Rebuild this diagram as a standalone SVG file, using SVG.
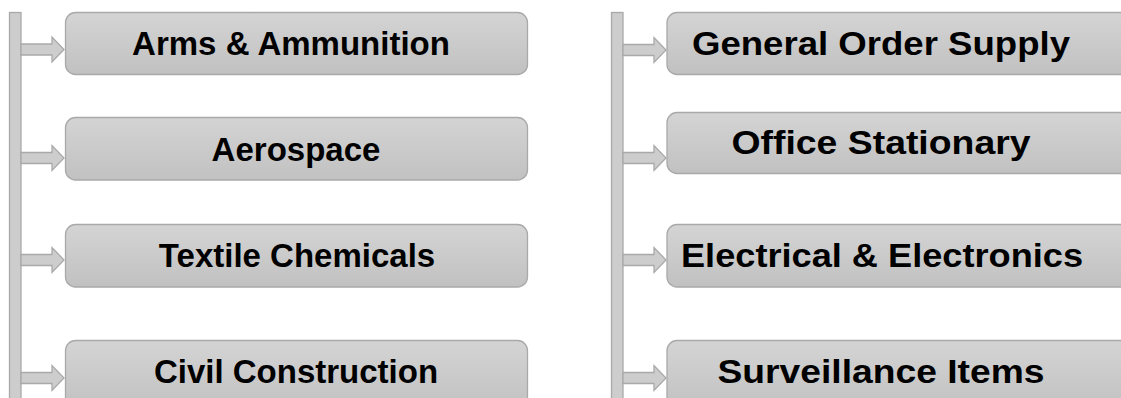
<svg xmlns="http://www.w3.org/2000/svg" width="1121" height="398" viewBox="0 0 1121 398">
<defs>
<linearGradient id="g" x1="0" y1="0" x2="0" y2="1">
<stop offset="0" stop-color="#d4d4d4"/>
<stop offset="1" stop-color="#c1c1c1"/>
</linearGradient>
<style>
.box{fill:url(#g);stroke:#a9a9a9;stroke-width:1.3}
.bar{fill:#cdcdcd;stroke:#a9a9a9;stroke-width:1.3}
.arr{fill:#cdcdcd;stroke:#a9a9a9;stroke-width:1.3;stroke-linejoin:miter}
.t{font-family:"Liberation Sans",Arial,sans-serif;font-weight:bold;font-size:33px;fill:#000;text-anchor:middle}
</style>
</defs>
<rect width="1121" height="398" fill="#ffffff"/>
<g id="connectors">
<rect class="bar" x="9.5" y="12.5" width="11.5" height="400"/>
<rect class="bar" x="611.5" y="12.5" width="11.5" height="400"/>
<polygon class="arr" points="21,44 52,44 52,37 64,49.5 52,62 52,55 21,55"/>
<polygon class="arr" points="21,152.5 52,152.5 52,145.5 64,158 52,170.5 52,163.5 21,163.5"/>
<polygon class="arr" points="21,254.5 52,254.5 52,247.5 64,260 52,272.5 52,265.5 21,265.5"/>
<polygon class="arr" points="21,372.5 52,372.5 52,365.5 64,378 52,390.5 52,383.5 21,383.5"/>
<polygon class="arr" points="623,44.5 654,44.5 654,37.5 666,50 654,62.5 654,55.5 623,55.5"/>
<polygon class="arr" points="623,152.5 654,152.5 654,145.5 666,158 654,170.5 654,163.5 623,163.5"/>
<polygon class="arr" points="623,254.5 654,254.5 654,247.5 666,260 654,272.5 654,265.5 623,265.5"/>
<polygon class="arr" points="623,372.5 654,372.5 654,365.5 666,378 654,390.5 654,383.5 623,383.5"/>
</g>
<g id="n1"><rect class="box" x="65.5" y="12.5" width="462" height="62" rx="10"/><text class="t" x="291" y="55">Arms &amp; Ammunition</text></g>
<g id="n2"><rect class="box" x="65.5" y="117.5" width="462" height="62.5" rx="10"/><text class="t" x="296" y="161">Aerospace</text></g>
<g id="n3"><rect class="box" x="65.5" y="224.5" width="462" height="62.5" rx="10"/><text class="t" x="297" y="267">Textile Chemicals</text></g>
<g id="n4"><rect class="box" x="65.5" y="340.5" width="462" height="70" rx="10"/><text class="t" x="296" y="383">Civil Construction</text></g>
<g id="n5"><rect class="box" x="667" y="12.5" width="470" height="62" rx="10"/><text class="t" x="881" y="55" textLength="378" lengthAdjust="spacingAndGlyphs">General Order Supply</text></g>
<g id="n6"><rect class="box" x="667" y="112.5" width="470" height="61" rx="10"/><text class="t" x="881" y="154" textLength="299" lengthAdjust="spacingAndGlyphs">Office Stationary</text></g>
<g id="n7"><rect class="box" x="667" y="224.5" width="470" height="62.5" rx="10"/><text class="t" x="882" y="267" textLength="402" lengthAdjust="spacingAndGlyphs">Electrical &amp; Electronics</text></g>
<g id="n8"><rect class="box" x="667" y="340.5" width="470" height="70" rx="10"/><text class="t" x="881" y="383" textLength="327" lengthAdjust="spacingAndGlyphs">Surveillance Items</text></g>
</svg>
